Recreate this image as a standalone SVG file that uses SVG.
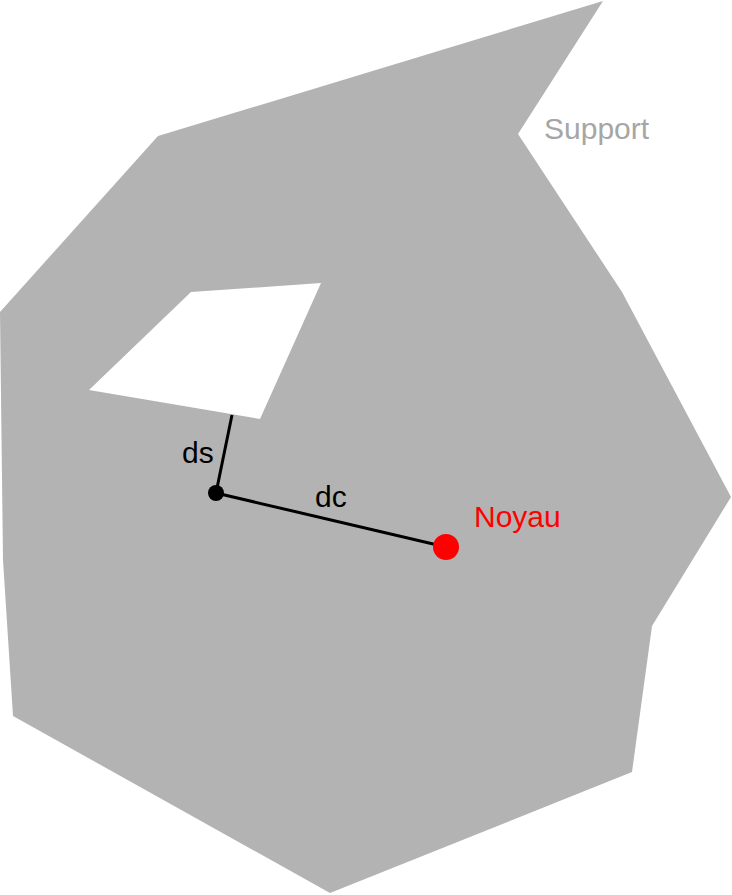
<svg xmlns="http://www.w3.org/2000/svg" width="732" height="895" viewBox="0 0 732 895">
<style>
text{font-family:"Liberation Sans",Arial,sans-serif;font-size:30px}
.lbl{fill:#000}
</style>
<rect width="732" height="895" fill="#fff"/>
<g id="support">
<path d="M603,1 L518,134 L622,292 L731,497 L652,626 L632,772 L330,893 L13,716 L3,560 L0,312 L158,136 Z M191,292 L321,283 L260,419 L89,390 Z" fill="#b3b3b3" fill-rule="evenodd"/>
<text x="544" y="139" fill="#a6a6a6">Support</text>
</g>
<g id="connectors" stroke="#000" stroke-width="3" fill="none">
<line x1="232" y1="415" x2="216" y2="493"/>
<line x1="216" y1="493" x2="446" y2="547"/>
</g>
<g id="point">
<circle cx="216" cy="493" r="8" fill="#000"/>
<text class="lbl" x="182" y="463">ds</text>
<text class="lbl" x="315" y="507">dc</text>
</g>
<g id="noyau">
<circle cx="446" cy="547" r="13" fill="#ff0000"/>
<text x="474" y="527" fill="#ff0000">Noyau</text>
</g>
</svg>
